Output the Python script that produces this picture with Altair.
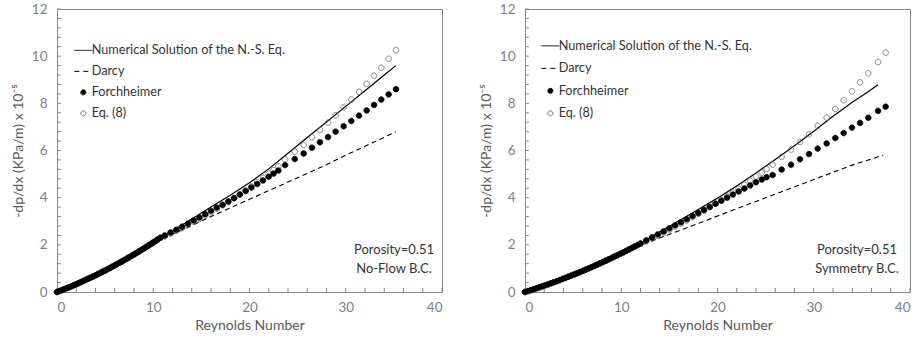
import altair as alt
import pandas as pd

SERIES = ["Numerical Solution of the N.-S. Eq.", "Darcy", "Forchheimer", "Eq. (8)"]

# ---------- Left panel: No-Flow B.C. ----------
L_dense_re = [0, 0.25, 0.5, 0.75, 1.0, 1.25, 1.5, 1.75, 2.0, 2.25, 2.5, 2.75, 3.0, 3.25, 3.5, 3.75,
              4.0, 4.25, 4.5, 4.75, 5.0, 5.25, 5.5, 5.75, 6.0, 6.25, 6.5, 6.75, 7.0, 7.25, 7.5, 7.75,
              8.0, 8.25, 8.5, 8.75, 9.0, 9.25, 9.5, 9.75, 10.0, 10.25, 10.5, 10.75]
L_dense_val = [0, 0.039, 0.079, 0.119, 0.161, 0.202, 0.245, 0.288, 0.332, 0.377, 0.422, 0.468, 0.515,
               0.562, 0.610, 0.659, 0.708, 0.758, 0.809, 0.860, 0.913, 0.965, 1.019, 1.073, 1.128, 1.184,
               1.240, 1.297, 1.355, 1.413, 1.472, 1.532, 1.592, 1.653, 1.715, 1.777, 1.841, 1.904, 1.969,
               2.034, 2.100, 2.167, 2.234, 2.302]
L_pts_re = [11.2, 11.8, 12.4, 13.0, 13.6, 14.2, 14.8, 15.4, 16.0, 16.6, 17.2, 17.8, 18.4, 19.0, 19.6,
            20.2, 20.8, 21.4, 22.0, 22.5, 23.0, 23.7, 24.70, 25.63, 26.49, 27.32, 28.16, 28.95, 29.78,
            30.58, 31.38, 32.17, 32.94, 33.69, 34.46, 35.22]
L_forch = [2.40, 2.52, 2.64, 2.77, 2.90, 3.03, 3.16, 3.30, 3.44, 3.58, 3.70, 3.84, 3.98, 4.13, 4.28,
           4.43, 4.58, 4.73, 4.89, 5.02, 5.15, 5.38, 5.64, 5.87, 6.12, 6.35, 6.57, 6.80, 7.03, 7.25,
           7.48, 7.70, 7.93, 8.16, 8.38, 8.60]
L_eq8 = [2.36, 2.47, 2.59, 2.71, 2.84, 2.97, 3.10, 3.24, 3.38, 3.52, 3.67, 3.82, 3.98, 4.14, 4.31,
         4.48, 4.66, 4.84, 5.02, 5.17, 5.33, 5.62, 5.95, 6.23, 6.56, 6.87, 7.18, 7.49, 7.83, 8.16,
         8.49, 8.83, 9.17, 9.51, 9.89, 10.26]
L_ns_re = [0, 2, 4, 6, 8, 10, 12, 14, 16, 18, 20, 22, 24, 26, 28, 30, 32, 34, 35.2]
L_ns_val = [0, 0.33, 0.71, 1.13, 1.59, 2.10, 2.60, 3.10, 3.60, 4.10, 4.63, 5.22, 5.88, 6.55, 7.21,
            7.87, 8.53, 9.20, 9.60]
L_darcy_re = [0, 2, 4, 6, 8, 10, 12, 14, 16, 18, 20, 22, 24, 26, 28, 30, 32, 34, 35.2]
L_darcy_val = [0, 0.33, 0.71, 1.13, 1.59, 2.08, 2.45, 2.82, 3.20, 3.57, 3.93, 4.30, 4.66, 5.03, 5.40,
               5.80, 6.18, 6.56, 6.80]
L_note = ["Porosity=0.51", "No-Flow B.C."]

# ---------- Right panel: Symmetry B.C. ----------
R_dense_re = [0, 0.3, 0.6, 0.9, 1.2, 1.5, 1.8, 2.1, 2.4, 2.7, 3.0, 3.3, 3.6, 3.9, 4.2, 4.5, 4.8, 5.1,
              5.4, 5.7, 6.0, 6.3, 6.6, 6.9, 7.2, 7.5, 7.8, 8.1, 8.4, 8.7, 9.0, 9.3, 9.6, 9.9, 10.2,
              10.5, 10.8, 11.1, 11.4, 11.7, 12.0]
R_dense_val = [0, 0.038, 0.078, 0.117, 0.158, 0.199, 0.241, 0.283, 0.326, 0.370, 0.414, 0.459, 0.505,
               0.552, 0.599, 0.646, 0.695, 0.744, 0.794, 0.844, 0.895, 0.947, 0.999, 1.053, 1.106,
               1.161, 1.216, 1.272, 1.328, 1.385, 1.443, 1.501, 1.560, 1.620, 1.680, 1.741, 1.803,
               1.866, 1.929, 1.992, 2.057]
R_pts_re = [12.6, 13.2, 13.8, 14.4, 15.0, 15.6, 16.2, 16.8, 17.4, 18.0, 18.6, 19.2, 19.8, 20.4, 21.0,
            21.6, 22.2, 22.8, 23.4, 24.0, 24.6, 25.1, 25.73, 26.67, 27.64, 28.57, 29.51, 30.41, 31.34,
            32.24, 33.11, 33.97, 34.81, 35.67, 36.68, 37.47]
R_forch = [2.19, 2.32, 2.44, 2.57, 2.70, 2.83, 2.96, 3.09, 3.22, 3.35, 3.48, 3.61, 3.74, 3.87, 4.00,
           4.13, 4.26, 4.39, 4.52, 4.65, 4.77, 4.87, 4.96, 5.19, 5.40, 5.63, 5.85, 6.08, 6.30, 6.53,
           6.74, 6.97, 7.17, 7.39, 7.68, 7.86]
R_eq8 = [2.15, 2.27, 2.39, 2.51, 2.64, 2.77, 2.90, 3.03, 3.17, 3.31, 3.45, 3.60, 3.75, 3.90, 4.06,
         4.22, 4.38, 4.55, 4.72, 4.89, 5.06, 5.22, 5.40, 5.73, 6.04, 6.36, 6.69, 7.05, 7.39, 7.76,
         8.13, 8.51, 8.89, 9.27, 9.75, 10.15]
R_ns_re = [0, 2, 4, 6, 8, 10, 12, 14, 16, 18, 20, 22, 24, 26, 28, 30, 32, 34, 35.5, 36.68]
R_ns_val = [0, 0.27, 0.57, 0.90, 1.25, 1.64, 2.07, 2.55, 3.02, 3.50, 3.98, 4.50, 5.05, 5.62, 6.20,
            6.82, 7.45, 8.05, 8.45, 8.79]
R_darcy_re = [0, 2, 4, 6, 8, 10, 12, 14, 16, 18, 20, 22, 24, 26, 28, 30, 32, 34, 36, 37.2]
R_darcy_val = [0, 0.27, 0.57, 0.90, 1.25, 1.62, 1.98, 2.29, 2.60, 2.91, 3.22, 3.53, 3.84, 4.15, 4.46,
               4.77, 5.08, 5.38, 5.64, 5.80]
R_note = ["Porosity=0.51", "Symmetry B.C."]

X_TICKS = [0, 2, 4, 6, 8, 10, 12, 14, 16, 18, 20, 22, 24, 26, 28, 30, 32, 34, 36, 38, 40]
Y_TICKS = [0, 0.4, 0.8, 1.2, 1.6, 2.0, 2.4, 2.8, 3.2, 3.6, 4.0, 4.4, 4.8, 5.2, 5.6, 6.0, 6.4, 6.8,
           7.2, 7.6, 8.0, 8.4, 8.8, 9.2, 9.6, 10.0, 10.4, 10.8, 11.2, 11.6, 12.0]

FONT = "Lato"
GRAY = "#868686"
LINE_PATH = "M-3.6,0H3.6"


def panel(dense_re, dense_val, pts_re, forch, eq8, ns_re, ns_val, d_re, d_val, note,
          leg_x, leg_y, row_pad, note_x):
    pts = pd.concat([
        pd.DataFrame({"re": dense_re + pts_re, "val": dense_val + eq8, "series": SERIES[3]}),
        pd.DataFrame({"re": dense_re + pts_re, "val": dense_val + forch, "series": SERIES[2]}),
    ], ignore_index=True)
    ns = pd.DataFrame({"re": ns_re, "val": ns_val})
    darcy = pd.DataFrame({"re": d_re, "val": d_val})

    xs = alt.Scale(domain=[0, 40], nice=False, zero=False)
    ys = alt.Scale(domain=[0, 12], nice=False, zero=False)
    xax = alt.Axis(values=[0, 10, 20, 30, 40], ticks=False, grid=False, title="Reynolds Number",
                   labelPadding=8, titlePadding=5, domainColor=GRAY, labelColor="#7f7f7f",
                   labelFont=FONT, labelFontSize=13.5, titleColor="#595959", titleFont=FONT,
                   titleFontSize=14, titleFontWeight="normal")
    yax = alt.Axis(values=[0, 2, 4, 6, 8, 10, 12], ticks=False, grid=False,
                   title="-dp/dx (KPa/m) x 10\u207b\u2075", labelPadding=10, titlePadding=6,
                   domainColor=GRAY, labelColor="#7f7f7f", labelFont=FONT, labelFontSize=13.5,
                   titleColor="#595959", titleFont=FONT, titleFontSize=14, titleFontWeight="normal")
    X = alt.X("re:Q", scale=xs, axis=xax)
    Y = alt.Y("val:Q", scale=ys, axis=yax)

    leg = alt.Legend(title=None, orient="none", legendX=leg_x, legendY=leg_y, padding=0,
                     labelFont=FONT, labelFontSize=12.7, labelColor="#333333", symbolSize=25,
                     symbolStrokeWidth=1, labelOffset=2, rowPadding=row_pad, labelLimit=400)

    xt = alt.Chart(pd.DataFrame({"t": X_TICKS})).mark_rule(color=GRAY, strokeWidth=1).encode(
        x=alt.X("t:Q", scale=xs, axis=xax), y=alt.datum(0, scale=ys), y2=alt.datum(0.17))
    yt = alt.Chart(pd.DataFrame({"t": Y_TICKS})).mark_rule(color=GRAY, strokeWidth=1).encode(
        y=alt.Y("t:Q", scale=ys, axis=yax), x=alt.datum(0, scale=xs), x2=alt.datum(0.4))

    ns_line = alt.Chart(ns).mark_line(color="black", strokeWidth=1.2).encode(x=X, y=Y)
    d_line = alt.Chart(darcy).mark_line(color="black", strokeWidth=1.1, strokeDash=[5, 3.5]).encode(x=X, y=Y)

    points = alt.Chart(pts).mark_point(filled=False, size=30, strokeWidth=0.9, opacity=1).encode(
        x=X, y=Y,
        shape=alt.Shape("series:N", scale=alt.Scale(domain=SERIES, range=[LINE_PATH, LINE_PATH, "circle", "circle"]), legend=leg),
        stroke=alt.Stroke("series:N", scale=alt.Scale(domain=SERIES, range=["black", "black", "black", "#6a6a6a"]), legend=leg),
        fill=alt.Fill("series:N", scale=alt.Scale(domain=SERIES, range=["transparent", "transparent", "black", "transparent"]), legend=leg),
        strokeDash=alt.StrokeDash("series:N", scale=alt.Scale(domain=SERIES, range=[[1, 0], [5, 4], [1, 0], [1, 0]]), legend=leg),
    )

    txt = alt.Chart(pd.DataFrame({"t": [1]})).mark_text(
        font=FONT, fontSize=13, color="#333333", align="center", baseline="middle", lineHeight=18.5
    ).encode(x=alt.value(note_x), y=alt.value(241), text=alt.value(note))

    return alt.layer(xt, yt, ns_line, d_line, points, txt).properties(width=385, height=283)


left = panel(L_dense_re, L_dense_val, L_pts_re, L_forch, L_eq8, L_ns_re, L_ns_val,
             L_darcy_re, L_darcy_val, L_note, 20, 35, 7, 337)
right = panel(R_dense_re, R_dense_val, R_pts_re, R_forch, R_eq8, R_ns_re, R_ns_val,
              R_darcy_re, R_darcy_val, R_note, 19, 30.5, 8.5, 332)

chart = alt.hconcat(left, right, spacing=35).resolve_scale(
    x="independent", y="independent", shape="independent", stroke="independent",
    fill="independent", strokeDash="independent"
).resolve_legend(shape="independent", stroke="independent", fill="independent",
                 strokeDash="independent").properties(
    padding={"left": 10, "top": 1, "right": 0, "bottom": 0}, background="white"
).configure_view(stroke=GRAY, strokeWidth=1)

chart.save("out.html", embed_options={"renderer": "svg", "actions": False})
